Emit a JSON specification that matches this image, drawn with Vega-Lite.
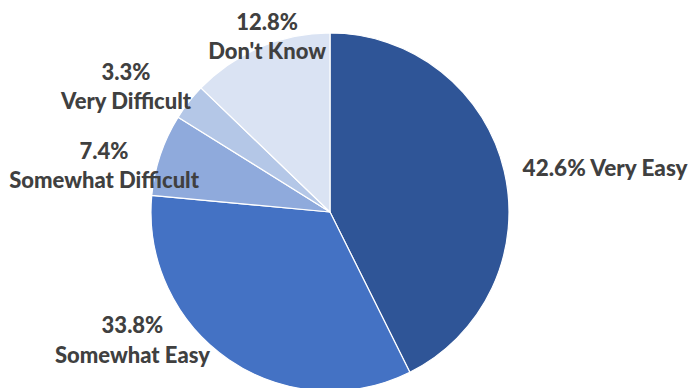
{
  "$schema": "https://vega.github.io/schema/vega-lite/v6.json",
  "width": 660,
  "height": 352,
  "padding": {"left": 0, "top": 36, "right": 37, "bottom": 0},
  "autosize": {"type": "none"},
  "background": "white",
  "view": {"stroke": null},
  "data": {
    "values": [
      {"idx": 1, "cat": "Very Easy", "pct": 42.6, "label": "42.6% Very Easy"},
      {"idx": 2, "cat": "Somewhat Easy", "pct": 33.8, "label": "33.8%\nSomewhat Easy"},
      {"idx": 3, "cat": "Somewhat Difficult", "pct": 7.4, "label": "7.4%\nSomewhat Difficult"},
      {"idx": 4, "cat": "Very Difficult", "pct": 3.3, "label": "3.3%\nVery Difficult"},
      {"idx": 5, "cat": "Don't Know", "pct": 12.8, "label": "12.8%\nDon't Know"}
    ]
  },
  "encoding": {
    "theta": {"field": "pct", "type": "quantitative", "stack": true},
    "order": {"field": "idx", "type": "quantitative"}
  },
  "layer": [
    {
      "mark": {"type": "arc", "outerRadius": 179, "stroke": "#ffffff", "strokeWidth": 1.2},
      "encoding": {
        "color": {
          "field": "cat",
          "type": "nominal",
          "scale": {
            "domain": ["Very Easy", "Somewhat Easy", "Somewhat Difficult", "Very Difficult", "Don't Know"],
            "range": ["#2F5597", "#4472C4", "#8FAADC", "#B4C7E7", "#DAE3F3"]
          },
          "legend": null
        }
      }
    },
    {
      "mark": {"type": "text", "radius": 278, "dx": 4.5, "dy": 21, "font": "Lato", "fontSize": 22.5, "fontWeight": 900, "fill": "#404040", "lineBreak": "\n", "lineHeight": 29, "align": "center", "baseline": "middle"},
      "encoding": {"text": {"condition": {"test": "datum.idx === 1", "field": "label"}, "value": ""}}
    },
    {
      "mark": {"type": "text", "radius": 200, "dx": -84.5, "dy": -51, "font": "Lato", "fontSize": 22, "fontWeight": 900, "fill": "#404040", "lineBreak": "\n", "lineHeight": 30, "align": "center", "baseline": "middle"},
      "encoding": {"text": {"condition": {"test": "datum.idx === 2", "field": "label"}, "value": ""}}
    },
    {
      "mark": {"type": "text", "radius": 230, "dx": -8, "dy": 14, "font": "Lato", "fontSize": 22, "fontWeight": 900, "fill": "#404040", "lineBreak": "\n", "lineHeight": 29, "align": "center", "baseline": "middle"},
      "encoding": {"text": {"condition": {"test": "datum.idx === 3", "field": "label"}, "value": ""}}
    },
    {
      "mark": {"type": "text", "radius": 230, "dx": -22.5, "dy": 2, "font": "Lato", "fontSize": 22, "fontWeight": 900, "fill": "#404040", "lineBreak": "\n", "lineHeight": 29, "align": "center", "baseline": "middle"},
      "encoding": {"text": {"condition": {"test": "datum.idx === 4", "field": "label"}, "value": ""}}
    },
    {
      "mark": {"type": "text", "radius": 190, "dx": 11.5, "dy": -14, "font": "Lato", "fontSize": 22, "fontWeight": 900, "fill": "#404040", "lineBreak": "\n", "lineHeight": 29, "align": "center", "baseline": "middle"},
      "encoding": {"text": {"condition": {"test": "datum.idx === 5", "field": "label"}, "value": ""}}
    }
  ]
}
